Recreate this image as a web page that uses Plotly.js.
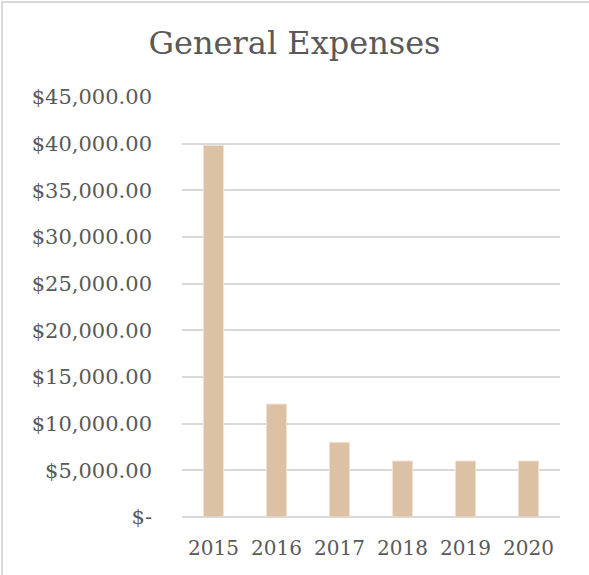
<!DOCTYPE html>
<html>
<head>
<meta charset="utf-8">
<script src="https://cdn.plot.ly/plotly-3.0.1.min.js"></script>
<style>
  html, body { margin: 0; padding: 0; background: #fff; }
  #wrap { position: relative; width: 589px; height: 575px; overflow: hidden; }
  #chart { position: absolute; left: 0; top: 0; width: 589px; height: 575px; }
  #frame { position: absolute; left: 1px; top: 1px; width: 600px; height: 600px;
           border-left: 2px solid #d9d9d9; border-top: 2px solid #d9d9d9; pointer-events: none; }
</style>
</head>
<body>
<div id="wrap">
  <div id="chart"></div>
  <div id="frame"></div>
</div>
<script>
const years = ["2015", "2016", "2017", "2018", "2019", "2020"];
const expenses = [39800, 12100, 8000, 6000, 6000, 6000];
const tickValues = [0, 5000, 10000, 15000, 20000, 25000, 30000, 35000, 40000, 45000];
const tickLabels = ["$-", "$5,000.00", "$10,000.00", "$15,000.00", "$20,000.00",
                    "$25,000.00", "$30,000.00", "$35,000.00", "$40,000.00", "$45,000.00"];

const fontFamily = "'DejaVu Serif', 'Liberation Serif', serif";
const textColor = "#595959";

const data = [{
  type: "bar",
  x: years,
  y: expenses,
  marker: { color: "#DCC1A5", line: { color: "#EFE2D4", width: 1 } },
  hoverinfo: "none"
}];

const layout = {
  width: 589,
  height: 575,
  margin: { l: 182, r: 29, t: 97, b: 58, pad: 0 },
  paper_bgcolor: "#ffffff",
  plot_bgcolor: "#ffffff",
  showlegend: false,
  bargap: 0.68,
  title: {
    text: "General Expenses",
    font: { family: fontFamily, size: 32, color: textColor },
    x: 0.5, xanchor: "center", xref: "container",
    y: 0.925, yanchor: "middle", yref: "container"
  },
  xaxis: {
    type: "category",
    tickfont: { family: fontFamily, size: 20, color: textColor },
    ticks: "",
    showgrid: false,
    showline: false,
    zeroline: false,
    ticklabelstandoff: 17
  },
  yaxis: {
    range: [0, 45000],
    tickmode: "array",
    tickvals: tickValues,
    ticktext: tickLabels,
    tickfont: { family: fontFamily, size: 21, color: textColor },
    ticks: "",
    showgrid: true,
    gridcolor: "#d9d9d9",
    gridwidth: 2,
    zeroline: true,
    zerolinecolor: "#d9d9d9",
    zerolinewidth: 2,
    showline: false,
    ticklabelstandoff: 29
  }
};

Plotly.newPlot("chart", data, layout, { staticPlot: true, displayModeBar: false });
</script>
</body>
</html>
